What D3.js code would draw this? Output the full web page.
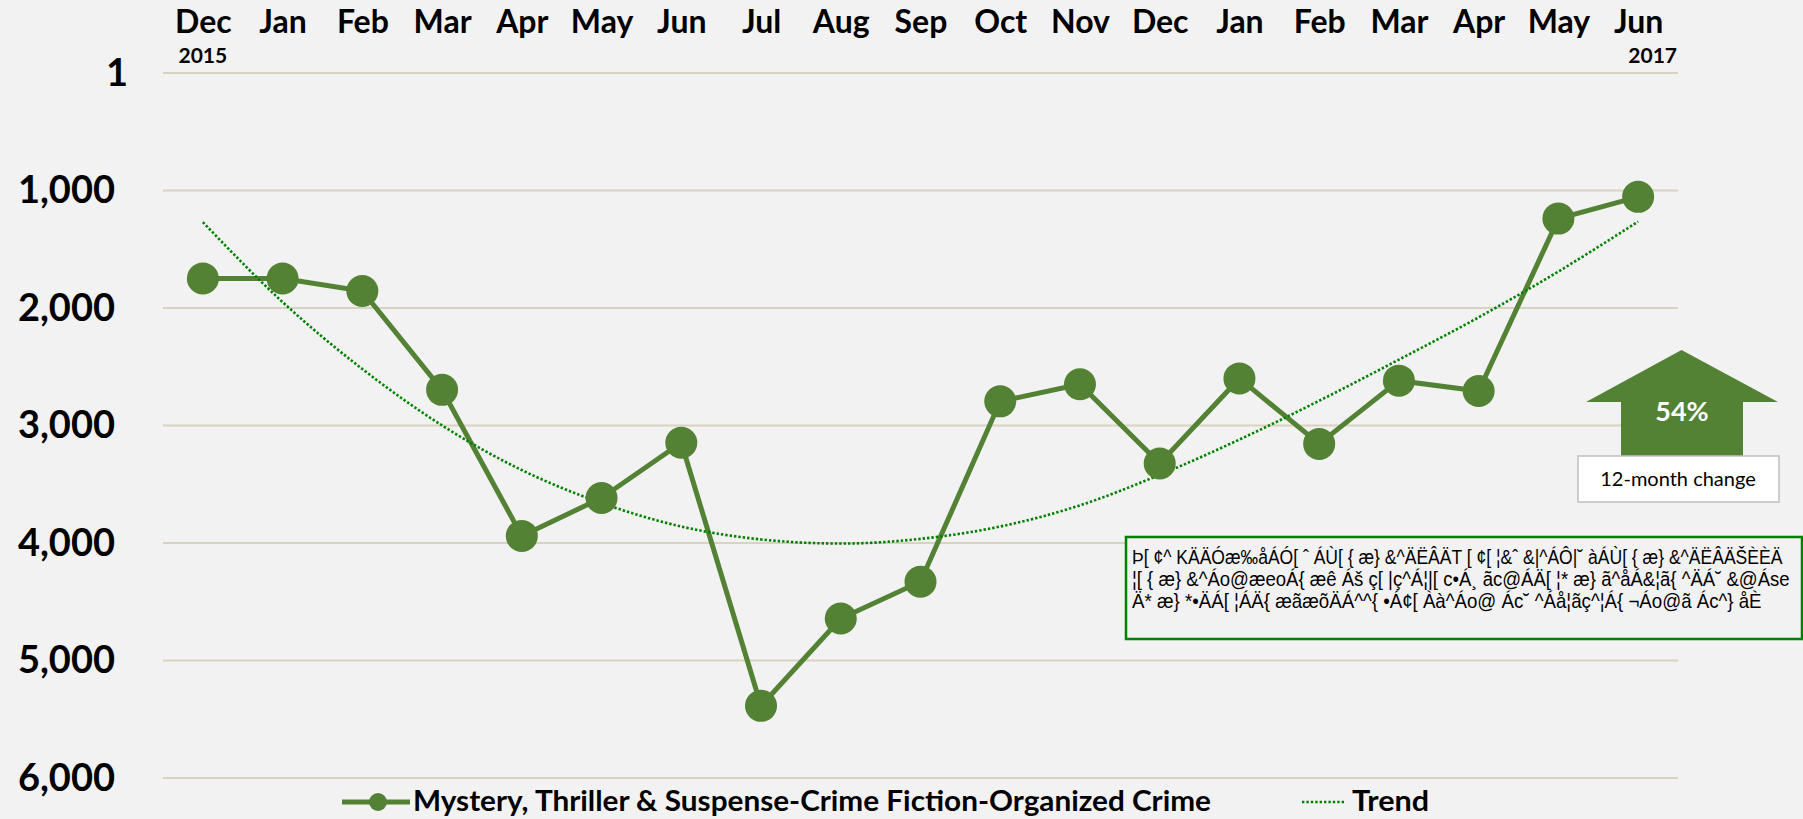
<!DOCTYPE html>
<html>
<head>
<meta charset="utf-8">
<script src="https://cdnjs.cloudflare.com/ajax/libs/d3/7.8.5/d3.min.js"></script>
<style>
  body { margin: 0; background: #f2f2f2; }
  svg { display: block; }
  .lbl { font-family: Lato, "Open Sans", sans-serif; font-weight: bold; fill: #000; }
</style>
</head>
<body>
<svg id="chart" width="1803" height="819"></svg>
<script>
// --- data ---
var months = ["Dec","Jan","Feb","Mar","Apr","May","Jun","Jul","Aug","Sep","Oct","Nov","Dec","Jan","Feb","Mar","Apr","May","Jun"];
var ranks = [1750,1750,1856,2697,3940,3617,3147,5386,4643,4330,2795,2649,3323,2600,3157,2619,2707,1240,1055];
var trend = [1270,1950,2520,3000,3380,3660,3860,3970,4005,3965,3860,3680,3420,3120,2790,2440,2080,1690,1265];
var yTicks = [1,1000,2000,3000,4000,5000,6000];
var seriesName = "Mystery, Thriller & Suspense-Crime Fiction-Organized Crime";
var changeText = "54%";
var noteLines = [
  "Þ[ ¢^ KÄÄÓæ‰åÁÓ[ ˆ ÁÙ[ {  æ} &^ÄËÂÄT [ ¢[ ¦&ˆ &|^ÁÔ|˘ àÁÙ[ {  æ} &^ÄËÂÄŠÈÈÄ",
  "¦[ {  æ} &^Áo@æeoÁ{ æê Áš ç[ |ç^Á¦|[ c•Á¸ ãc@ÁÄ[ ¦* æ} ã^åÁ&¦ã{ ^ÄÁ˘ &@Áse",
  "Ä* æ} *•ÄÁ[ ¦ÁÄ{ æãæõÄÁ^^{ •Á¢[ Àà^Áo@ Ác˘ ^Áå¦ãç^¦Á{ ¬Áo@ã Ác^} åÈ"
];

var svg = d3.select("#chart");
var green = "#548235";

var x = d3.scalePoint().domain(d3.range(months.length)).range([163, 1678]).padding(0.5);
var y = d3.scaleLinear().domain([1, 6000]).range([73, 778]);

// gridlines
svg.append("g").selectAll("line").data(yTicks).enter().append("line")
  .attr("x1", 163).attr("x2", 1678)
  .attr("y1", function(d){ return y(d); }).attr("y2", function(d){ return y(d); })
  .attr("stroke", "#d8d2bf").attr("stroke-width", 2);

// y axis labels
var yAxis = svg.append("g").attr("transform", "translate(163,0)")
  .call(d3.axisLeft(y).tickValues(yTicks).tickSize(0).tickPadding(48).tickFormat(d3.format(",")));
yAxis.select(".domain").remove();
yAxis.selectAll("text").attr("class", "lbl").style("font-size", "38px")
  .attr("dx", function(d){ return d === 1 ? 13 : 0; });

// month labels on top
var xAxis = svg.append("g").attr("transform", "translate(0,33)")
  .call(d3.axisTop(x).tickSize(0).tickPadding(0).tickFormat(function(i){ return months[i]; }));
xAxis.select(".domain").remove();
xAxis.selectAll("text").attr("class", "lbl").style("font-size", "32px").attr("dy", 0);

svg.append("text").attr("class", "lbl").attr("x", x(0)).attr("y", 63)
  .attr("text-anchor", "middle").style("font-size", "21px").text("2015");
svg.append("text").attr("class", "lbl").attr("x", 1677).attr("y", 63)
  .attr("text-anchor", "end").style("font-size", "21px").text("2017");

// series line
svg.append("path").datum(ranks)
  .attr("d", d3.line().x(function(d, i){ return x(i); }).y(function(d){ return y(d); }))
  .attr("fill", "none").attr("stroke", green).attr("stroke-width", 5);

// trend (dotted)
svg.append("path").datum(trend)
  .attr("d", d3.line().curve(d3.curveMonotoneX).x(function(d, i){ return x(i); }).y(function(d){ return y(d); }))
  .attr("fill", "none").attr("stroke", "#008000").attr("stroke-width", 2.6)
  .attr("stroke-dasharray", "2.4,2");

svg.append("g").selectAll("circle").data(ranks).enter().append("circle")
  .attr("cx", function(d, i){ return x(i); }).attr("cy", function(d){ return y(d); })
  .attr("r", 16).attr("fill", green);

// note box
svg.append("rect").attr("x", 1126).attr("y", 537).attr("width", 676).attr("height", 102)
  .attr("fill", "#f2f2f2").attr("stroke", "#008000").attr("stroke-width", 2.5);
var noteWidths = [651, 658, 630];
noteLines.forEach(function(line, i) {
  // squeeze each line horizontally so it fits the box
  var g = svg.append("g");
  var t = g.append("text").attr("x", 0).attr("y", 0)
    .style("font-family", "'Liberation Sans', Arial, sans-serif")
    .style("font-size", "20px").attr("fill", "#000").text(line);
  var sx = noteWidths[i] / t.node().getComputedTextLength();
  g.attr("transform", "translate(1132," + (564 + i * 22) + ") scale(" + sx + ",1)");
});

// 12-month change arrow
svg.append("path")
  .attr("d", "M1681.5,350 L1778,402 L1743,402 L1743,460 L1621,460 L1621,402 L1586,402 Z")
  .attr("fill", green);
svg.append("text").attr("x", 1682).attr("y", 421).attr("text-anchor", "middle")
  .attr("class", "lbl").style("font-size", "27px").style("fill", "#fff")
  .text(changeText);
svg.append("rect").attr("x", 1578).attr("y", 456).attr("width", 201).attr("height", 46)
  .attr("fill", "#fff").attr("stroke", "#bfbfbf").attr("stroke-width", 1.5);
svg.append("text").attr("x", 1678).attr("y", 486).attr("text-anchor", "middle")
  .style("font-family", "Lato, 'Open Sans', sans-serif").style("font-size", "20px")
  .attr("fill", "#000").text("12-month change");

// legend
var lg = svg.append("g");
lg.append("line").attr("x1", 342).attr("x2", 410).attr("y1", 802).attr("y2", 802)
  .attr("stroke", green).attr("stroke-width", 5);
lg.append("circle").attr("cx", 378).attr("cy", 802).attr("r", 9).attr("fill", green);
lg.append("text").attr("class", "lbl").attr("x", 413).attr("y", 811)
  .style("font-size", "29px").attr("textLength", 798).attr("lengthAdjust", "spacingAndGlyphs")
  .text(seriesName);
lg.append("line").attr("x1", 1302).attr("x2", 1344).attr("y1", 802).attr("y2", 802)
  .attr("stroke", "#008000").attr("stroke-width", 2.6).attr("stroke-dasharray", "2.4,2");
lg.append("text").attr("class", "lbl").attr("x", 1352).attr("y", 811)
  .style("font-size", "29px").attr("textLength", 77).attr("lengthAdjust", "spacingAndGlyphs")
  .text("Trend");
</script>
</body>
</html>
